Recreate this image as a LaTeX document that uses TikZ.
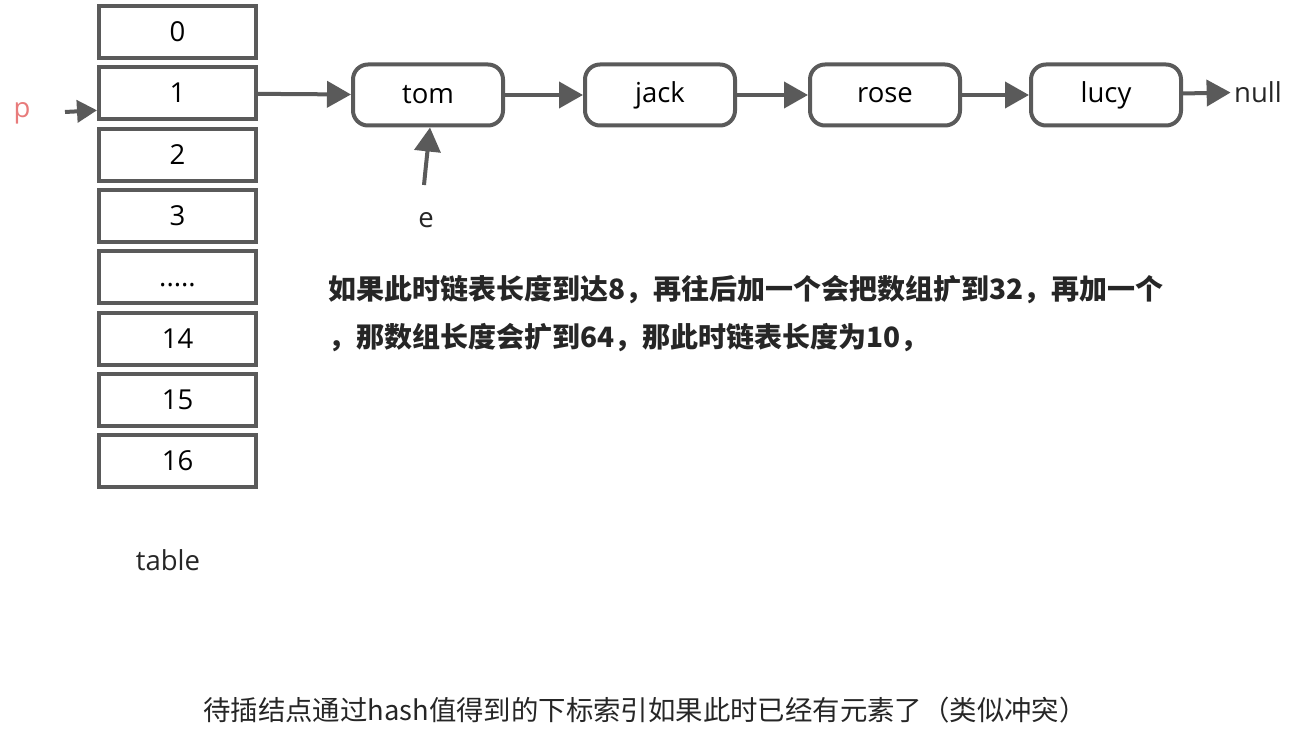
\documentclass[tikz,border=0pt]{standalone}
\usepackage{fontspec}
\setmainfont{Open Sans}
\newfontfamily\cjk{Noto Sans CJK SC}
\usetikzlibrary{arrows.meta}

\definecolor{linegray}{HTML}{5A5A5A}
\definecolor{pred}{HTML}{E87B7B}
\newcommand{\gapdots}{.....}

\tikzset{
  cell/.style={draw=linegray, line width=4pt, minimum width=157pt, minimum height=52pt, inner sep=0pt, text height=19pt, text depth=0pt, font=\fontsize{27.5}{33}\selectfont},
  item/.style={draw=linegray, line width=4pt, rounded corners=15pt, minimum width=150pt, minimum height=61pt, inner sep=0pt, font=\fontsize{27.5}{33}\selectfont},
  link/.style={draw=linegray, line width=4pt, -{Triangle[length=24pt, width=26pt]}},
  label/.style={font=\fontsize{27.5}{33}\selectfont, text=black!85},
  note/.style={anchor=west, inner sep=0pt, font=\cjk\bfseries\fontsize{28}{33}\selectfont, text=black!85},
}

\begin{document}
\begin{tikzpicture}[x=1pt, y=-1pt]
\useasboundingbox (0,0) rectangle (1298,741);

% the table
\foreach \lab [count=\k from 0] in {0,1,2,3,\gapdots,14,15,16}
  \node[cell] (c\k) at (177.5, 32+61.3*\k) {\lab};
\node[label] (table) at (168,560) {table};

% the list
\node[item] (tom) at (428,95) {tom};
\node[item] (jack) at (660,95) {jack};
\node[item] (rose) at (885,95) {rose};
\node[item] (lucy) at (1106,95) {lucy};
\node[label] (null) at (1258,92) {null};

\draw[link] (c1) -- (tom);
\draw[link] (tom) -- (jack);
\draw[link] (jack) -- (rose);
\draw[link] (rose) -- (lucy);
\draw[link] (lucy) -- (null);

% pointers
\node[label, text=pred] (p) at (22,113) {p};
\coordinate (p-tail) at (65,112);
\draw[link, -{Triangle[length=20pt, width=22pt]}] (p-tail) -- ([yshift=-17pt]c1.west);

\node[label] (e) at (426,220) {e};
\coordinate (e-tail) at (424,185);
\draw[link] (e-tail) .. controls (426,165) .. ([xshift=2pt]tom.south);

% notes
\node[note] (note1) at (328,290) {如果此时链表长度到达8，再往后加一个会把数组扩到32，再加一个};
\node[note] (note2) at (328,338) {，那数组长度会扩到64，那此时链表长度为10，};
\node[font=\cjk\fontsize{27.4}{33}\selectfont, text=black!85] (caption) at (645,710) {待插结点通过hash值得到的下标索引如果此时已经有元素了（类似冲突）};
\end{tikzpicture}
\end{document}
